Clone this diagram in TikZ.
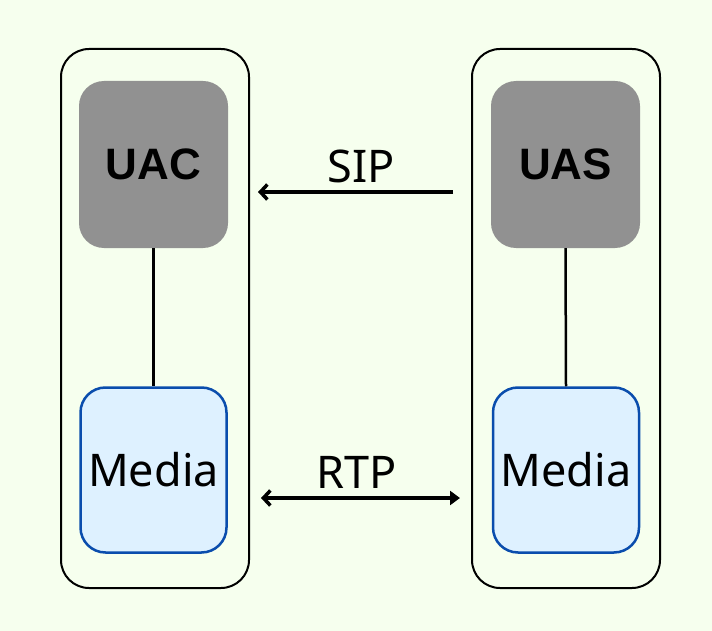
\documentclass[tikz,border=0pt]{standalone}
\usepackage{fontspec}
\setmainfont{Noto Sans}
\newfontfamily\boldsans{Liberation Sans}
\usetikzlibrary{arrows.meta}
\definecolor{bg}{HTML}{F6FFEE}
\definecolor{agentgray}{HTML}{919191}
\definecolor{mediafill}{HTML}{DEF1FF}
\definecolor{mediadraw}{HTML}{0A4DAD}
\tikzset{
  outerbox/.style={draw=black, line width=2pt, rounded corners=28pt, minimum width=188pt, minimum height=539pt, inner sep=0pt},
  agentbox/.style={fill=agentgray, rounded corners=25pt, minimum width=149pt, minimum height=167pt, inner sep=0pt, font=\boldsans\bfseries\fontsize{44}{52}\selectfont},
  mediabox/.style={draw=mediadraw, line width=2.5pt, fill=mediafill, rounded corners=25pt, minimum width=146pt, minimum height=165pt, inner sep=0pt, font=\fontsize{45}{54}\selectfont},
  link/.style={line width=2.5pt},
  msg/.style={line width=4pt},
  lbl/.style={font=\fontsize{45}{54}\selectfont, inner sep=0pt},
  barb/.tip={Straight Barb[length=7pt,width=15pt,line width=3.5pt]},
  tri/.tip={Triangle[length=10pt,width=14pt]},
}
\begin{document}
\begin{tikzpicture}[x=1pt,y=-1pt]
\fill[bg] (0,0) rectangle (712,631);
\useasboundingbox (0,0) rectangle (712,631);
\node[outerbox] (lout) at (155,318.5) {};
\node[outerbox] (rout) at (566,318.5) {};
\node[agentbox] (uac) at (153.5,164.5) {UAC};
\node[agentbox] (uas) at (565.5,164.5) {UAS};
\node[mediabox] (lmed) at (153.5,470) {Media};
\node[mediabox] (rmed) at (566,470) {Media};
\draw[link] (uac.south) -- (lmed.north);
\draw[link] (uas.south) -- (rmed.north);
\coordinate (sipS) at (453,192);
\coordinate (sipE) at (258,192);
\coordinate (rtpA) at (261,498);
\coordinate (rtpB) at (460,498);
\draw[msg, -barb] (sipS) -- (sipE);
\draw[msg, barb-tri] (rtpA) -- (rtpB);
\node[lbl] (sip) at (361,166) {SIP};
\node[lbl] (rtp) at (357,472) {RTP};
\end{tikzpicture}
\end{document}
